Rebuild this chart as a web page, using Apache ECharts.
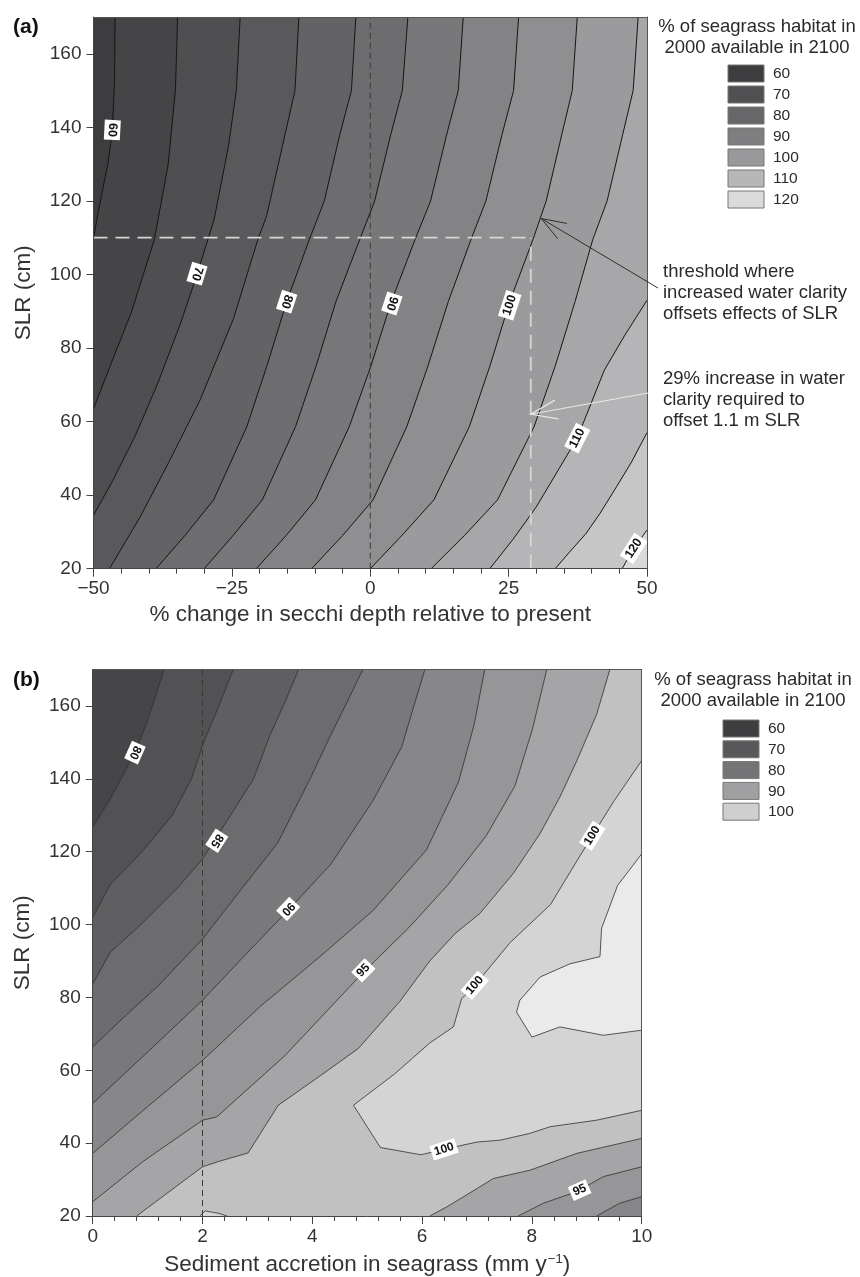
<!DOCTYPE html>
<html><head><meta charset="utf-8">
<script src="https://cdn.jsdelivr.net/npm/echarts@6/dist/echarts.min.js"></script>
<style>html,body{margin:0;padding:0;background:#fff}#c{width:860px;height:1277px}</style>
</head><body><div id="c"></div>
<script>
// ================= DATA =================
// axis ranges & ticks
const xRangeA = [-50, 50];
const xRangeB = [0, 10];
const yRange = [20, 170];
const yTicks = [20, 40, 60, 80, 100, 120, 140, 160];

// ---- panel (a): contour levels and contour paths [% change secchi, SLR cm]
const levelsA = [60, 65, 70, 75, 80, 85, 90, 95, 100, 105, 110, 115, 120];
const cA60  = [[-50,110],[-48.7,120.5],[-47.4,130],[-46.6,139],[-46.2,152],[-46.1,170]];
const cA65  = [[-50,63.5],[-46.5,77],[-43.2,89.5],[-39,109.5],[-36.5,130],[-35.2,150],[-34.8,170]];
const cA70  = [[-50,34.5],[-46.5,44],[-42.5,56],[-38.5,70],[-34.2,87],[-31.3,100],[-28.2,115],[-25.6,135],[-24.2,150],[-23.5,170]];
const cA75  = [[-47.1,20],[-41.6,34],[-36.2,49.5],[-30.7,66],[-24.7,88],[-20.3,109.5],[-18.7,116],[-15.4,138],[-13.6,150],[-12.9,170]];
const cA80  = [[-38.7,20],[-33.5,29],[-28.3,38.7],[-22.3,58.6],[-18.7,75],[-15.1,92.6],[-11,109.5],[-8.3,120],[-5.5,138],[-3.4,150],[-2.6,170]];
const cA85  = [[-30,20],[-24.8,29],[-19.5,38.7],[-13.5,58.6],[-9.8,75],[-6.2,92.6],[-1.9,109.5],[0.8,120],[3.7,138],[5.8,150],[6.8,170]];
const cA90  = [[-20.6,20],[-15.2,29],[-9.9,38.7],[-3.8,58.6],[0.1,75],[3.8,92.6],[8.1,109.5],[10.9,120],[13.8,138],[15.9,150],[16.8,170]];
const cA95  = [[-10.6,20],[-5,29],[0.5,38.7],[6.6,58.6],[10.4,75],[14.1,92.6],[18.2,109.5],[20.9,120],[23.8,138],[25.9,150],[26.8,170]];
const cA100 = [[0,20],[5.7,29],[11.5,38.7],[17.9,58.6],[21.6,75],[25.2,92.6],[29.4,109.5],[31.8,120],[34.6,138],[36.5,150],[37.4,170]];
const cA105 = [[11,20],[17,29],[23,38.7],[29.6,58.6],[33.4,75],[37,92.6],[40.2,109.5],[42.8,120],[45.6,138],[47.5,150],[48.4,170]];
const cA110 = [[21.6,20],[25.8,28],[30,36.8],[37.4,55.5],[42.3,74],[46,83.5],[50,93]];
const cA115 = [[33.4,20],[36,24.5],[39,29.6],[41.5,35],[44.5,42.3],[47.2,49],[50,57]];
const cA120 = [[45.5,20],[47.6,25.5],[50,30.5]];
// contour labels (a): [value, x, y]
const labelsA = [[60,-46.6,139.3],[70,-31.3,100.2],[80,-15.1,92.6],[90,3.9,92.1],[100,25.2,91.6],[110,37.4,55.5],[120,47.6,25.5]];
// reference lines (a)
const refA_x0 = 0;          // present secchi depth
const thresholdX = 29;      // % increase in water clarity
const thresholdY = 110;     // SLR (cm)
const arrowThreshold = [30.9, 115.2];
const arrowClarity = [29, 62];
// legend (a)
const legendA = [60, 70, 80, 90, 100, 110, 120];

// ---- panel (b): contour paths [sediment accretion mm/y, SLR cm]
const cB80   = [[0,126.7],[0.32,134.5],[0.55,141],[0.77,147.2],[1.0,156],[1.3,170]];
const cB825  = [[0,102],[0.32,111],[0.9,120],[1.45,130],[1.8,140],[2.02,150],[2.3,160],[2.56,170]];
const cB85   = [[0,83.7],[0.32,92.4],[0.92,100.6],[1.53,109.8],[2.0,118],[2.3,125],[2.93,140],[3.23,152],[3.5,161],[3.75,170]];
const cB875  = [[0,66.4],[0.6,75],[1.2,83.3],[2.0,96],[2.66,108.8],[3.37,122.4],[3.96,140],[4.33,151.8],[4.6,160],[4.92,170]];
const cB90   = [[0,50.9],[1.0,65],[2.0,79.2],[2.8,92],[3.56,103.9],[4.34,116.6],[5.11,134.1],[5.63,148.8],[5.85,160],[6.05,170]];
const cB925  = [[0,37.2],[1.0,50],[2.0,62.7],[3.05,77.5],[4.14,91.2],[5.11,103.9],[6.08,120.5],[6.66,139],[6.95,155],[7.14,170]];
const cB95   = [[0,23.9],[0.92,35],[2.0,46.3],[2.26,47.2],[3.5,64],[4.93,86.9],[5.75,99],[6.46,110.7],[7.17,124.4],[7.69,138],[8.01,153.6],[8.27,170]];
const cB975  = [[0.8,20],[2.0,33.5],[2.3,35],[2.83,37.3],[3.38,50.4],[4.1,58],[4.84,66],[5.6,79],[6.14,90],[6.6,97.5],[7.05,103],[7.66,114],[8.15,125],[8.51,135],[8.82,145],[9.18,157.7],[9.42,170]];
const cB100  = [[10,145],[9.5,134],[9.1,124.4],[8.6,112],[8.34,105.5],[7.6,95],[6.96,83.3],[6.72,79.6],[6.57,71.9],[6.14,67.5],[5.5,59],[4.75,50.4],[5.24,38.8],[5.98,36.8],[6.4,38.3],[7.0,40.3],[7.42,40.8],[7.97,42.7],[8.33,44.5],[9.18,46.3],[10,49]];
const cB1025 = [[10,119.4],[9.56,110.7],[9.27,99],[9.24,91.2],[8.69,89.2],[8.15,85.6],[7.78,79.2],[7.72,76],[8.0,69.1],[8.51,71.9],[9.3,69.6],[10,71]];
const cB100b = [[1.95,20],[2.05,21.4],[2.3,20.7],[2.45,20]];
const cB975l = [[6.14,20],[6.45,22.5],[7.3,30.3],[7.97,32.6],[8.82,37.2],[10,41.3]];
const cB95l  = [[7.75,20],[8.21,23.5],[8.82,26.7],[9.3,30.8],[10,33.5]];
const cB925l = [[9.18,20],[9.6,23.5],[10,25.3]];
// contour labels (b): [value, x, y]
const labelsB = [[80,0.77,147.2],[85,2.26,123],[90,3.56,104.3],[95,4.93,87.4],[100,9.1,124.4],[100,6.96,83.3],[100,6.4,38.3],[95,8.87,27.1]];
// reference line (b)
const refB_x = 2;
// legend (b)
const legendB = [60, 70, 80, 90, 100];

// ================= STYLE =================
const FONT = '"Liberation Sans", Arial, Helvetica, sans-serif';
const colorsA = ['#3d3d40','#454548','#4f4f52','#59595c','#636366','#6d6d70','#78787b','#838386','#8f8f91','#9b9b9d','#a7a7a9','#b5b5b7','#c6c6c7','#d9d9da'];
const colorsB = ['#464649','#525255','#5f5f62','#6c6c6f','#79797c','#87878a','#969698','#a5a5a7','#c1c1c2','#d4d4d5','#eaeaea'];
const legendColorsA = ['#3d3d40','#505053','#67676a','#7e7e81','#99999b','#b7b7b8','#dadada'];
const legendColorsB = ['#3e3e41','#58585b','#747477','#a0a0a2','#cfcfd0'];
const labelRotA = [-93,-107,-108,-108,72,63,57];
const labelRotB = [-114,-123,-133,46,58,49,18,24];

// ================= BUILD =================
const contoursA = [cA60,cA65,cA70,cA75,cA80,cA85,cA90,cA95,cA100,cA105,cA110,cA115,cA120];
const [xa0, xa1] = xRangeA, [xb0, xb1] = xRangeB, [y0, y1] = yRange;

// painter's fills for (a): region >= level filled with the band colour above it
const fillsA = [{pts: [[xa0,y0],[xa0,y1],[xa1,y1],[xa1,y0]], color: colorsA[0]}];
contoursA.forEach((c, k) => {
  const pts = c.slice();
  const s = c[0], e = c[c.length - 1];
  if (e[1] >= y1) pts.push([xa1, y1]);
  pts.push([xa1, y0]);
  if (s[0] <= xa0) pts.push([xa0, y0]);
  fillsA.push({pts, color: colorsA[k + 1]});
});

const rev = a => a.slice().reverse();
const TR = [xb1, y1], BL = [xb0, y0], BR = [xb1, y0];
const fillsB = [
  {pts: [[xb0,y0],[xb0,y1],[xb1,y1],[xb1,y0]], color: colorsB[0]},
  {pts: [...cB80, TR, BR, BL], color: colorsB[1]},
  {pts: [...cB825, TR, BR, BL], color: colorsB[2]},
  {pts: [...cB85, TR, BR, BL], color: colorsB[3]},
  {pts: [...cB875, TR, BR, BL], color: colorsB[4]},
  {pts: [...cB90, TR, BR, BL], color: colorsB[5]},
  {pts: [...cB925, TR, ...rev(cB925l), BL], color: colorsB[6]},
  {pts: [...cB95, TR, ...rev(cB95l), BL], color: colorsB[7]},
  {pts: [...cB975, TR, ...rev(cB975l)], color: colorsB[8]},
  {pts: [...cB100], color: colorsB[9]},
  {pts: [...cB100b], color: colorsB[9]},
  {pts: [...cB1025], color: colorsB[10]}
];
const linesB = [cB80,cB825,cB85,cB875,cB90,cB925,cB95,cB975,cB100,cB1025,cB100b,cB975l,cB95l,cB925l];

function fillSeries(fills, xi, yi) {
  return {
    type: 'custom', xAxisIndex: xi, yAxisIndex: yi, clip: true, silent: true, z: 1,
    data: fills.map((f, i) => [f.pts[0][0], f.pts[0][1], i]),
    renderItem: (params, api) => {
      const f = fills[api.value(2)];
      return {type: 'polygon', shape: {points: f.pts.map(p => api.coord(p))}, style: {fill: f.color}};
    }
  };
}
function lineSeries(c, xi, yi, color, w) {
  return {type: 'line', xAxisIndex: xi, yAxisIndex: yi, data: c, symbol: 'none', showSymbol: false,
    silent: true, z: 3, lineStyle: {color, width: w}, emphasis: {disabled: true}};
}
function dashSeries(c, xi, yi, color, w, dash) {
  return {type: 'line', xAxisIndex: xi, yAxisIndex: yi, data: c, symbol: 'none', showSymbol: false,
    silent: true, z: 4, lineStyle: {color, width: w, type: dash}, emphasis: {disabled: true}};
}
function labelSeries(labels, rots, xi, yi, size) {
  return {
    type: 'custom', xAxisIndex: xi, yAxisIndex: yi, clip: false, silent: true, z: 6,
    data: labels.map((l, i) => [l[1], l[2], i]),
    renderItem: (params, api) => {
      const i = api.value(2);
      const p = api.coord([labels[i][1], labels[i][2]]);
      return {type: 'text', x: p[0], y: p[1], rotation: rots[i] * Math.PI / 180,
        style: {text: String(labels[i][0]), font: 'bold ' + size + 'px ' + FONT, fill: '#111',
          align: 'center', verticalAlign: 'middle', backgroundColor: '#fff', padding: [2, 3, 1, 3]}};
    }
  };
}

const axisCol = '#444';
function xAxisMain(gi, rng, interval, name, fmt, gap) {
  return {gridIndex: gi, type: 'value', min: rng[0], max: rng[1], interval, position: 'bottom', z: 10,
    axisLine: {show: true, onZero: false, lineStyle: {color: axisCol, width: 1}},
    axisTick: {show: true, length: 8, lineStyle: {color: axisCol}},
    minorTick: {show: true, splitNumber: 5, length: 5, lineStyle: {color: axisCol}},
    splitLine: {show: false}, minorSplitLine: {show: false},
    axisLabel: {fontSize: 19, color: '#333', fontFamily: FONT, margin: 11, formatter: fmt},
    name, nameLocation: 'middle', nameGap: gap,
    nameTextStyle: {fontSize: 22.5, color: '#333', fontFamily: FONT,
      rich: {sup: {fontSize: 13, fontFamily: FONT, color: '#333', verticalAlign: 'top', lineHeight: 12, padding: [0, 0, 0, 1]}}}};
}
function frameX(gi, rng) {
  return {gridIndex: gi, type: 'value', min: rng[0], max: rng[1], position: 'top', z: 10,
    axisLine: {show: true, onZero: false, lineStyle: {color: '#555', width: 1}},
    axisTick: {show: false}, axisLabel: {show: false}, splitLine: {show: false}};
}
function yAxisMain(gi) {
  return {gridIndex: gi, type: 'value', min: y0, max: y1, interval: 20, position: 'left', z: 10,
    axisLine: {show: true, onZero: false, lineStyle: {color: axisCol, width: 1}},
    axisTick: {show: true, length: 7, lineStyle: {color: axisCol}, customValues: yTicks},
    splitLine: {show: false},
    axisLabel: {fontSize: 19, color: '#333', fontFamily: FONT, margin: 12, customValues: yTicks},
    name: 'SLR (cm)', nameLocation: 'middle', nameGap: 58,
    nameTextStyle: {fontSize: 22.5, color: '#333', fontFamily: FONT}};
}
function frameY(gi) {
  return {gridIndex: gi, type: 'value', min: y0, max: y1, position: 'right', z: 10,
    axisLine: {show: true, onZero: false, lineStyle: {color: '#555', width: 1}},
    axisTick: {show: false}, axisLabel: {show: false}, splitLine: {show: false}};
}

const minus = v => (v < 0 ? '\u2212' + Math.abs(v) : String(v));

const series = [];
series.push(fillSeries(fillsA, 0, 0));
contoursA.forEach(c => series.push(lineSeries(c, 0, 0, '#161616', 1)));
series.push(dashSeries([[refA_x0, y0], [refA_x0, y1]], 0, 0, '#3a3a3a', 1, [6, 4]));
series.push(dashSeries([[xa0, thresholdY], [thresholdX, thresholdY]], 0, 0, '#d6d6d6', 1.8, [14, 8]));
series.push(dashSeries([[thresholdX, y0], [thresholdX, thresholdY]], 0, 0, '#d6d6d6', 1.8, [14, 8]));
series.push(labelSeries(labelsA, labelRotA, 0, 0, 12.5));

series.push(fillSeries(fillsB, 2, 2));
linesB.forEach(c => series.push(lineSeries(c, 2, 2, '#303030', 0.8)));
series.push(dashSeries([[refB_x, y0], [refB_x, y1]], 2, 2, '#3a3a3a', 1, [6, 4]));
series.push(labelSeries(labelsB, labelRotB, 2, 2, 12));

const chart = echarts.init(document.getElementById('c'), null, {renderer: 'canvas', width: 860, height: 1277});
chart.setOption({
  animation: false,
  backgroundColor: '#fff',
  grid: [
    {left: 93.5, top: 17, width: 553.5, height: 551.7, containLabel: false, outerBoundsMode: 'none', show: false},
    {left: 92.7, top: 669.5, width: 549, height: 546.5, containLabel: false, outerBoundsMode: 'none', show: false}
  ],
  xAxis: [
    xAxisMain(0, xRangeA, 25, '% change in secchi depth relative to present', minus, 35),
    frameX(0, xRangeA),
    xAxisMain(1, xRangeB, 2, 'Sediment accretion in seagrass (mm y{sup|\u22121})', v => String(v), 37),
    frameX(1, xRangeB)
  ],
  yAxis: [yAxisMain(0), frameY(0), yAxisMain(1), frameY(1)],
  series
});

// ---------- legends, panel tags, annotations ----------
const g = [];
const txt = (x, y, text, size, opts) => Object.assign({type: 'text', x, y, z: 50, silent: true,
  style: Object.assign({text, font: size + 'px ' + FONT, fill: '#2a2a2a', verticalAlign: 'middle', align: 'left'}, opts || {})});
g.push(txt(13, 27, '(a)', 21, {font: 'bold 21px ' + FONT, fill: '#111'}));
g.push(txt(13, 680, '(b)', 21, {font: 'bold 21px ' + FONT, fill: '#111'}));

function legend(cx, ty, boxX, boxY0, step, values, cols) {
  g.push(txt(cx, ty, '% of seagrass habitat in', 18.5, {align: 'center'}));
  g.push(txt(cx, ty + 21, '2000 available in 2100', 18.5, {align: 'center'}));
  values.forEach((v, i) => {
    const y = boxY0 + i * step;
    g.push({type: 'rect', z: 50, silent: true, shape: {x: boxX, y, width: 36, height: 17},
      style: {fill: cols[i], stroke: '#777', lineWidth: 1}});
    g.push(txt(boxX + 45, y + 9, String(v), 15.5));
  });
}
legend(757, 27, 728, 65, 21, legendA, legendColorsA);
legend(753, 680, 723, 720, 20.8, legendB, legendColorsB);

[['threshold where', 272], ['increased water clarity', 293], ['offsets effects of SLR', 313.5],
 ['29% increase in water', 379], ['clarity required to', 400], ['offset 1.1 m SLR', 420.5]]
  .forEach(t => g.push(txt(663, t[1], t[0], 18.5)));

function arrow(tail, tipData, color, w, len) {
  const tip = chart.convertToPixel({gridIndex: 0}, tipData);
  const a = Math.atan2(tail[1] - tip[1], tail[0] - tip[0]);
  const d = 20 * Math.PI / 180;
  const w1 = [tip[0] + len * Math.cos(a + d), tip[1] + len * Math.sin(a + d)];
  const w2 = [tip[0] + len * Math.cos(a - d), tip[1] + len * Math.sin(a - d)];
  g.push({type: 'line', z: 60, silent: true, shape: {x1: tail[0], y1: tail[1], x2: tip[0], y2: tip[1]},
    style: {stroke: color, lineWidth: w}});
  g.push({type: 'polyline', z: 60, silent: true, shape: {points: [w1, tip, w2]},
    style: {stroke: color, lineWidth: w, fill: null}});
}
arrow([658, 288], arrowThreshold, '#2e2e2e', 1, 26);
arrow([648, 393], arrowClarity, '#e8e8e8', 1.2, 28);

chart.setOption({graphic: {elements: g}});
</script>
</body></html>
